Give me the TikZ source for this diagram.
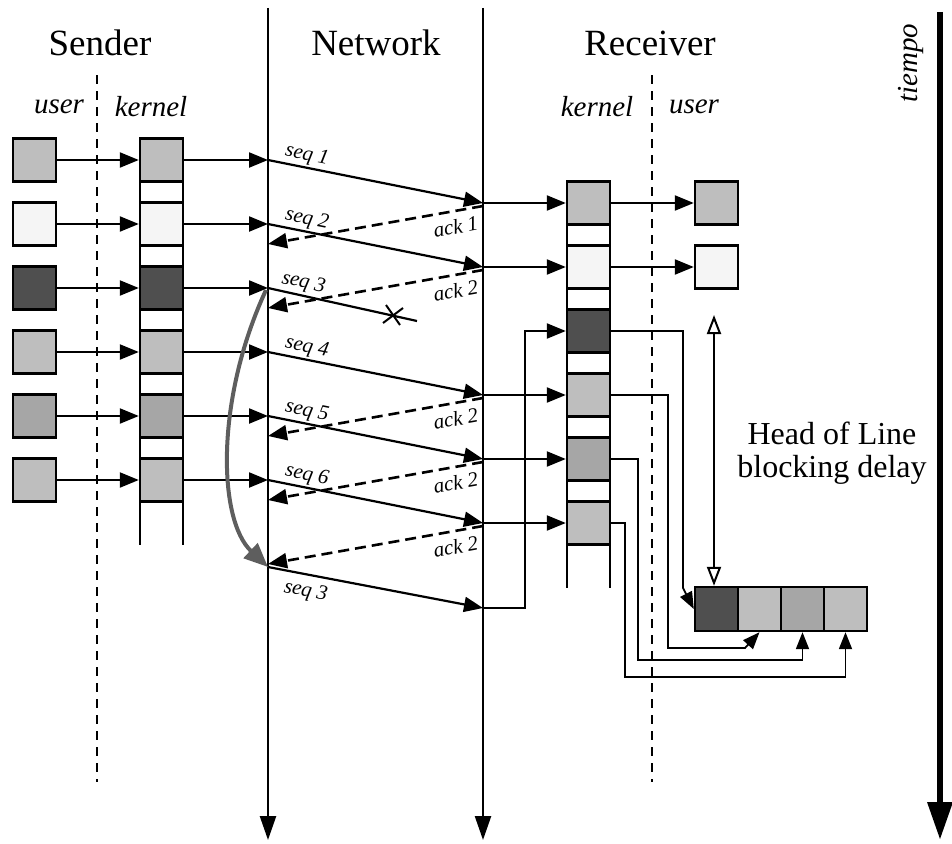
\documentclass[tikz,border=0pt]{standalone}
\usepackage{fontspec}
\setmainfont{Liberation Serif}
\usetikzlibrary{arrows.meta}
\definecolor{pktlight}{HTML}{BEBEBE}
\definecolor{pktwhite}{HTML}{F5F5F5}
\definecolor{pktdark}{HTML}{4F4F4F}
\definecolor{pktmid}{HTML}{A6A6A6}
\definecolor{retxgray}{HTML}{5E5E5E}
\begin{document}
\begin{tikzpicture}[x=1pt,y=-1pt,
  pkt/.style={draw, line width=2.4pt, minimum width=43pt, minimum height=43pt, inner sep=0pt},
  flow/.style={line width=2.2pt, -{Triangle[length=19pt,width=15pt]}},
  ackline/.style={line width=2.6pt, dash pattern=on 11pt off 6pt, -{Triangle[length=19pt,width=15pt]}},
  route/.style={line width=1.8pt},
  routetip/.style={route, -{Triangle[length=17pt,width=13pt]}},
  axis/.style={line width=2.4pt, -{Triangle[length=24pt,width=16pt]}},
  sep/.style={line width=2.4pt, dash pattern=on 9pt off 7pt},
  column/.style={line width=2.4pt},
  title/.style={font=\fontsize{37}{40}\selectfont},
  layer/.style={font=\fontsize{29}{30}\selectfont\itshape},
  lbl/.style={font=\fontsize{21}{21}\selectfont\itshape, inner sep=2pt},
]
\useasboundingbox (0,0) rectangle (952,843);

% headings
\node[title] (hsend) at (100,43) {Sender};
\node[title] (hnet)  at (376,43) {Network};
\node[title] (hrecv) at (650,43) {Receiver};
\node[layer] (lsu) at (59,107) {user};
\node[layer] (lsk) at (151,107) {kernel};
\node[layer] (lrk) at (597,107) {kernel};
\node[layer] (lru) at (694,107) {user};

% user/kernel separators
\draw[sep] (97,75) -- (97,782);
\draw[sep] (652,75) -- (652,782);

% network boundaries (time axes)
\coordinate (nlt) at (268,8);
\coordinate (nlb) at (268,840);
\coordinate (nrt) at (483,8);
\coordinate (nrb) at (483,840);
\draw[axis] (nlt) -- (nlb);
\draw[axis] (nrt) -- (nrb);

% time arrow
\coordinate (tt) at (940,12);
\coordinate (tb) at (940,840);
\draw[line width=6.5pt, -{Triangle[length=38pt,width=24pt]}] (tt) -- (tb);
\node[font=\fontsize{29}{30}\selectfont\itshape, rotate=90] (ttxt) at (911,63) {tiempo};

% kernel buffers
\draw[column] (140,138.5) -- (140,545) (183,138.5) -- (183,545);
\draw[column] (567,181.5) -- (567,588) (610,181.5) -- (610,588);

% packets
\foreach \i/\c in {1/pktlight,2/pktwhite,3/pktdark,4/pktlight,5/pktmid,6/pktlight} {
  \node[pkt, fill=\c] (su\i) at (34.5,{160+64*(\i-1)}) {};
  \node[pkt, fill=\c] (sk\i) at (161.5,{160+64*(\i-1)}) {};
  \node[pkt, fill=\c] (rk\i) at (588.5,{203+64*(\i-1)}) {};
  \coordinate (s\i) at (268,{160+64*(\i-1)});
  \coordinate (r\i) at (483,{203+64*(\i-1)});
  \draw[flow] (su\i) -- (sk\i);
  \draw[flow] (sk\i) -- (s\i);
}
\node[pkt, fill=pktlight] (ru1) at (716.5,203) {};
\node[pkt, fill=pktwhite] (ru2) at (716.5,267) {};
\draw[flow] (rk1) -- (ru1);
\draw[flow] (rk2) -- (ru2);

% reordering buffer
\foreach \k/\c in {1/pktdark,2/pktlight,3/pktmid,4/pktlight} {
  \node[pkt, fill=\c, minimum height=44pt] (h\k) at ({716.5+43*(\k-1)},609) {};
}

% data segments
\foreach \i in {1,2,4,5,6} {
  \draw[flow] (s\i) -- node[lbl, sloped, above, pos=0.17] {seq \i} (r\i);
  \draw[flow] (r\i) -- (rk\i);
}
% lost segment
\coordinate (lost) at (393,315);
\coordinate (lostend) at (417,321);
\draw[line width=2.2pt] (s3) -- node[lbl, sloped, above, pos=0.22] {seq 3} (lostend);
\draw[line width=2pt] (lost) ++(-7,-10) -- ++(14,20);
\draw[line width=2pt] (lost) ++(-10,8) -- ++(20,-15);

% acknowledgements
\foreach \n/\ya/\yb/\t in {a1/206/244/ack 1, a2/270/308/ack 2, a3/398/436/ack 2, a4/462/500/ack 2, a5/526/564/ack 2} {
  \coordinate (\n r) at (483,\ya);
  \coordinate (\n s) at (268,\yb);
  \draw[ackline] (\n r) -- node[lbl, sloped, below=5pt, pos=0.14] {\t} (\n s);
}

% retransmission
\coordinate (s3b) at (268,567);
\coordinate (r3b) at (483,608);
\draw[line width=4pt, draw=retxgray, -{Triangle[length=24pt,width=20pt]}]
  (266,290) .. controls (215,400) and (218,520) .. (s3b);
\draw[flow] (s3b) -- node[lbl, sloped, below=5pt, pos=0.19] {seq 3} (r3b);
\draw[flow] (r3b) -- (525,608) |- (rk3);

% delivery into the reordering buffer
\draw[routetip] (rk3) -- (683,331) -- (683,588) -- (h1.west);
\draw[routetip] (rk4) -- (668,395) -- (668,648) -- (745,648) -- (h2.south);
\draw[routetip] (rk5) -- (638,459) -- (638,660) -| (h3.south);
\draw[routetip] (rk6) -- (625,523) -- (625,677) -| (h4.south);

% head-of-line blocking delay
\coordinate (holtop) at (714,315);
\draw[line width=2pt, {Triangle[length=19pt,width=14pt,fill=white]}-{Triangle[length=19pt,width=14pt,fill=white]}]
  (holtop) -- (holtop |- h1.north);
\node[font=\fontsize{32}{33}\selectfont, align=center] (holtxt) at (832,453) {Head of Line\\blocking delay};
\end{tikzpicture}
\end{document}
